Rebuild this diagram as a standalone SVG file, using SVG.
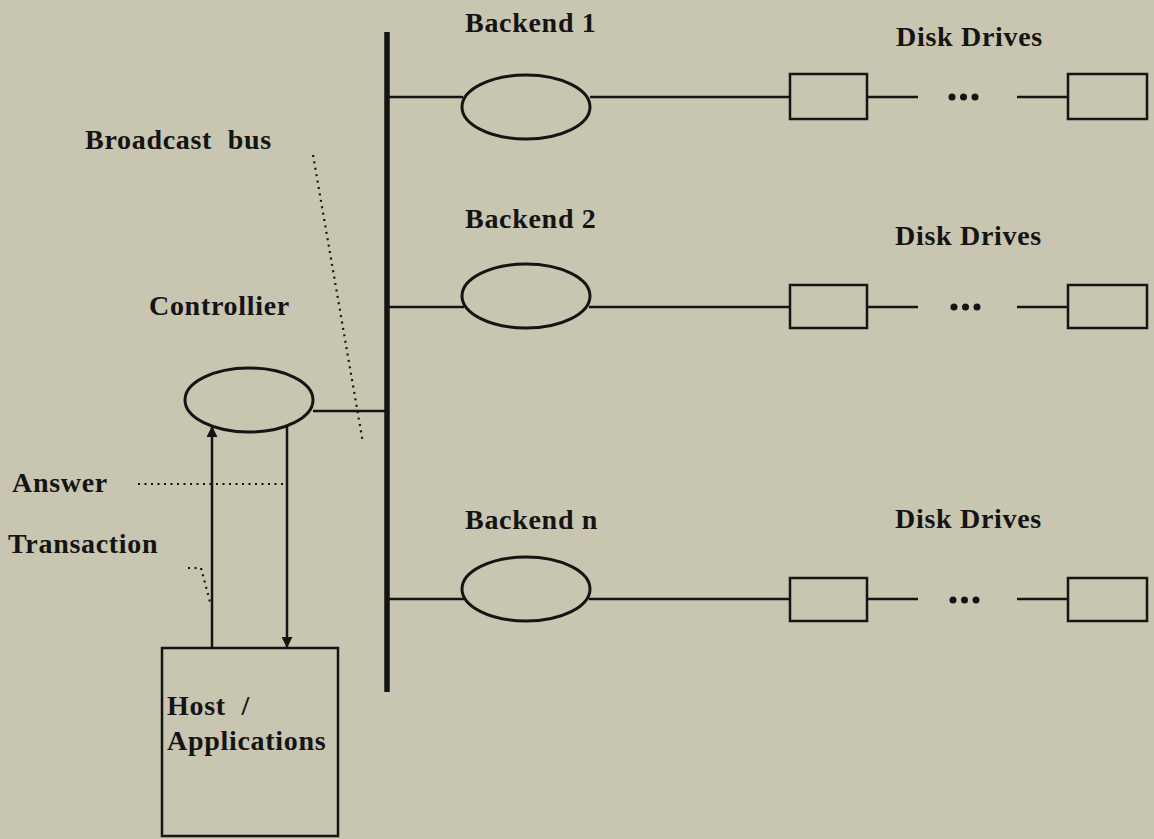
<svg xmlns="http://www.w3.org/2000/svg" width="1154" height="839" viewBox="0 0 1154 839">
<style>
.t{font-family:"Liberation Serif","Times New Roman",serif;font-weight:bold;font-size:28px;fill:#141414;letter-spacing:0.7px}
.ln{stroke:#141414;stroke-width:2.5;fill:none}
.sh{stroke:#141414;stroke-width:3;fill:none}
.dot{stroke:#141414;stroke-width:2.2;fill:none;stroke-dasharray:2 4.5}
.dd{fill:#141414}
</style>
<defs>
<marker id="ah" viewBox="0 0 10 10" refX="10" refY="5" markerWidth="11" markerHeight="11" markerUnits="userSpaceOnUse" orient="auto">
<path d="M0,0 L10,5 L0,10 z" fill="#141414"/>
</marker>
</defs>
<rect width="1154" height="839" fill="#c8c5b1"/>

<g id="connectors">
<line x1="387" y1="32" x2="387" y2="692" stroke="#141414" stroke-width="5.5"/>
<line class="ln" x1="387" y1="97" x2="463" y2="97"/>
<line class="ln" x1="590" y1="97" x2="790" y2="97"/>
<line class="ln" x1="867" y1="97" x2="918" y2="97"/>
<line class="ln" x1="1017" y1="97" x2="1068" y2="97"/>
<line class="ln" x1="387" y1="307" x2="464" y2="307"/>
<line class="ln" x1="589" y1="307" x2="790" y2="307"/>
<line class="ln" x1="867" y1="307" x2="918" y2="307"/>
<line class="ln" x1="1017" y1="307" x2="1068" y2="307"/>
<line class="ln" x1="387" y1="599" x2="464" y2="599"/>
<line class="ln" x1="589" y1="599" x2="790" y2="599"/>
<line class="ln" x1="867" y1="599" x2="918" y2="599"/>
<line class="ln" x1="1017" y1="599" x2="1068" y2="599"/>
<line class="ln" x1="313" y1="411" x2="387" y2="411"/>
<line class="ln" x1="212" y1="648" x2="212" y2="426" marker-end="url(#ah)"/>
<line class="ln" x1="287" y1="426" x2="287" y2="648" marker-end="url(#ah)"/>
<line class="dot" x1="313" y1="155" x2="363" y2="443"/>
<line class="dot" x1="138" y1="484" x2="287" y2="484"/>
<polyline class="dot" points="188,568 201,568 210,602"/>
</g>

<g id="disk-dots">
<circle class="dd" cx="952" cy="97" r="3.5"/><circle class="dd" cx="963.5" cy="97" r="3.5"/><circle class="dd" cx="975" cy="97" r="3.5"/>
<circle class="dd" cx="954" cy="307" r="3.5"/><circle class="dd" cx="965.5" cy="307" r="3.5"/><circle class="dd" cx="977" cy="307" r="3.5"/>
<circle class="dd" cx="953" cy="600" r="3.5"/><circle class="dd" cx="964.5" cy="600" r="3.5"/><circle class="dd" cx="976" cy="600" r="3.5"/>
</g>

<g id="backend1">
<ellipse class="sh" cx="526" cy="107" rx="64" ry="32"/>
<text class="t" x="465" y="32">Backend 1</text>
</g>
<g id="disks1">
<rect class="ln" x="790" y="74" width="77" height="45"/>
<rect class="ln" x="1068" y="74" width="79" height="45"/>
<text class="t" x="896" y="46">Disk Drives</text>
</g>

<g id="backend2">
<ellipse class="sh" cx="526" cy="296" rx="64" ry="32"/>
<text class="t" x="465" y="228">Backend 2</text>
</g>
<g id="disks2">
<rect class="ln" x="790" y="285" width="77" height="43"/>
<rect class="ln" x="1068" y="285" width="79" height="43"/>
<text class="t" x="895" y="245">Disk Drives</text>
</g>

<g id="backendn">
<ellipse class="sh" cx="526" cy="589" rx="64" ry="32"/>
<text class="t" x="465" y="529">Backend n</text>
</g>
<g id="disksn">
<rect class="ln" x="790" y="578" width="77" height="43"/>
<rect class="ln" x="1068" y="578" width="79" height="43"/>
<text class="t" x="895" y="528">Disk Drives</text>
</g>

<g id="bus-label">
<text class="t" x="85" y="149" word-spacing="8">Broadcast bus</text>
</g>

<g id="controller">
<ellipse class="sh" cx="249" cy="400" rx="64" ry="32"/>
<text class="t" x="149" y="315">Controllier</text>
</g>

<g id="answer-label">
<text class="t" x="12" y="492">Answer</text>
</g>
<g id="transaction-label">
<text class="t" x="8" y="553">Transaction</text>
</g>

<g id="host">
<rect class="ln" x="162" y="648" width="176" height="188"/>
<text class="t" x="167" y="715" word-spacing="8">Host /</text>
<text class="t" x="167" y="750">Applications</text>
</g>
</svg>
